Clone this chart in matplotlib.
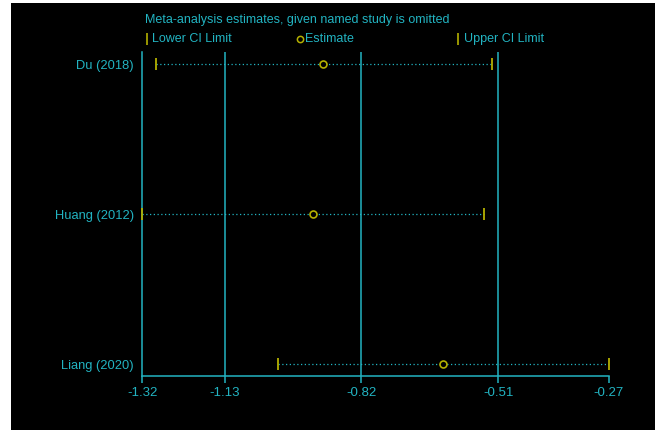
import matplotlib
matplotlib.use('Agg')
import matplotlib.pyplot as plt
from matplotlib.patches import Rectangle
from matplotlib.lines import Line2D

studies = ['Du (2018)', 'Huang (2012)', 'Liang (2020)']
estimate = [-0.913, -0.937, -0.644]
lower_ci = [-1.290, -1.320, -1.015]
upper_ci = [-0.533, -0.551, -0.270]

tick_vals = [-1.32, -1.135, -0.827, -0.519, -0.27]
tick_labels = ['-1.32', '-1.13', '-0.82', '-0.51', '-0.27']
grid_vals = tick_vals[1:4]

cyan = '#22b4c2'
yellow = '#b4b000'
W, H = 661, 430

plt.rcParams['font.family'] = ['Liberation Sans', 'DejaVu Sans']
fs = 9
fig = plt.figure(figsize=(W / 100, H / 100), dpi=100, facecolor='white')
# black panel, leaving the thin white margin of the original screenshot
fig.patches.append(Rectangle((11 / W, 0), (655 - 11) / W, 1 - 3 / H,
                             transform=fig.transFigure, facecolor='black',
                             edgecolor='none', zorder=-5))

ax = fig.add_axes([142.3 / W, 1 - 376 / H, (609 - 142.3) / W, (376 - 52) / H])
ax.set_facecolor('black')

ypos = [3, 2, 1]
for g in grid_vals:
    ax.axvline(g, color=cyan, lw=1.1, zorder=1)

for y, lo, est, hi in zip(ypos, lower_ci, estimate, upper_ci):
    ax.plot([lo, hi], [y, y], color=cyan, lw=0.9, ls=(0, (1, 2)), zorder=2)
    ax.plot([lo, hi], [y, y], ls='none', marker='|', ms=9, mew=1.3,
            color=yellow, zorder=3, clip_on=False)
    ax.plot(est, y, ls='none', marker='o', ms=5, mfc='black', mec=yellow,
            mew=1.2, zorder=4)

ax.set_xlim(-1.32, -0.27)
ax.set_ylim(0.92, 3.08)
ax.set_xticks(tick_vals)
ax.set_xticklabels(tick_labels)
ax.set_yticks(ypos)
ax.set_yticklabels(studies)
ax.tick_params(axis='x', colors=cyan, length=5, width=1.1, labelsize=fs + 0.5, pad=3)
ax.tick_params(axis='y', colors=cyan, length=0, labelsize=fs + 0.3, pad=6)
for s in ['top', 'right']:
    ax.spines[s].set_visible(False)
ax.spines['left'].set_color(cyan)
ax.spines['bottom'].set_color(cyan)
ax.spines['left'].set_linewidth(1.1)
ax.spines['bottom'].set_linewidth(1.1)

# title and legend row
fig.text(145 / W, 1 - 20 / H, 'Meta-analysis estimates, given named study is omitted',
         color=cyan, fontsize=fs, va='center', ha='left')
ly = 1 - 39 / H
fig.add_artist(Line2D([146.5 / W], [ly], marker='|', ms=8, mew=1.2,
                      color=yellow, transform=fig.transFigure))
fig.text(152 / W, ly, 'Lower CI Limit', color=cyan, fontsize=fs, va='center')
fig.add_artist(Line2D([300 / W], [ly], marker='o', ms=4.5, mfc='black',
                      mec=yellow, mew=1.1, transform=fig.transFigure))
fig.text(305 / W, ly, 'Estimate', color=cyan, fontsize=fs, va='center')
fig.add_artist(Line2D([458 / W], [ly], marker='|', ms=8, mew=1.2,
                      color=yellow, transform=fig.transFigure))
fig.text(464 / W, ly, 'Upper CI Limit', color=cyan, fontsize=fs, va='center')

fig.savefig('out.png', dpi=100, facecolor='white')
